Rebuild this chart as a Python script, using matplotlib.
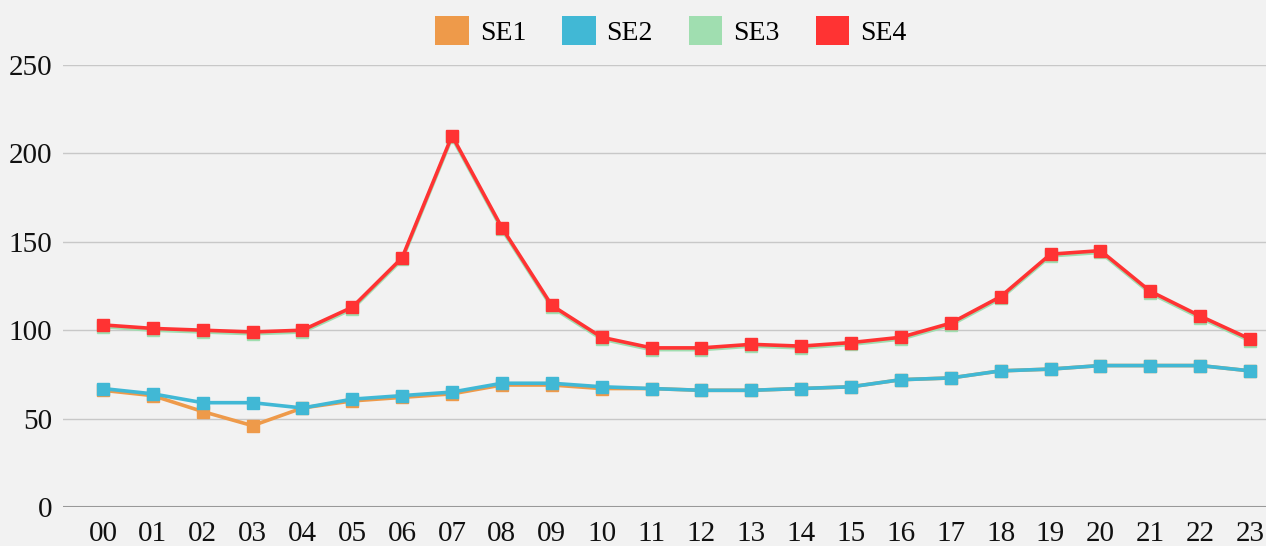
import matplotlib.pyplot as plt
from matplotlib.patches import Patch

hours = ['%02d' % h for h in range(24)]
se1 = [66, 63, 54, 46, 56, 60, 62, 64, 69, 69, 67, 67, 66, 66, 67, 68, 72, 73, 77, 78, 80, 80, 80, 77]
se2 = [67, 64, 59, 59, 56, 61, 63, 65, 70, 70, 68, 67, 66, 66, 67, 68, 72, 73, 77, 78, 80, 80, 80, 77]
se3 = [102, 100, 99, 98, 99, 112, 140, 209, 157, 113, 95, 89, 89, 91, 90, 92, 95, 103, 118, 142, 144, 121, 107, 94]
se4 = [103, 101, 100, 99, 100, 113, 141, 210, 158, 114, 96, 90, 90, 92, 91, 93, 96, 104, 119, 143, 145, 122, 108, 95]

names = ['SE1', 'SE2', 'SE3', 'SE4']
colors = ['#EE9A4A', '#41B8D5', '#A0DEB0', '#FF3333']

plt.rcParams['font.family'] = ['Liberation Serif', 'DejaVu Serif']

fig = plt.figure(figsize=(12.66, 5.46), dpi=100)
fig.patch.set_facecolor('#F2F2F2')
ax = fig.add_axes([63 / 1266, 39 / 546, 1 - 63 / 1266, 442 / 546])
ax.set_facecolor('#F2F2F2')

x = list(range(24))
for i, (vals, c) in enumerate(zip([se1, se2, se3, se4], colors)):
    ax.plot(x, vals, color=c, lw=2.6, marker='s', markersize=8, zorder=3 + i)

ax.set_ylim(0, 250)
ax.set_xlim(-0.8, 23.32)
ax.set_yticks([0, 50, 100, 150, 200, 250])
ax.set_xticks(x)
ax.set_xticklabels(hours)
ax.tick_params(length=0, labelsize=21, colors='#111111')
ax.tick_params(axis='y', pad=8)
ax.tick_params(axis='x', pad=10)
ax.grid(axis='y', color='#C8C8C8', lw=1)
ax.axhline(0, color='#999999', lw=1.5, zorder=2)
for s in ax.spines.values():
    s.set_visible(False)

handles = [Patch(facecolor=c, edgecolor='none', label=n) for n, c in zip(names, colors)]
fig.legend(handles=handles, loc='center', bbox_to_anchor=(0.53, 0.943), ncol=4,
           frameon=False, fontsize=20, handlelength=1.2, handleheight=1.2,
           handletextpad=0.4, columnspacing=1.3)

fig.savefig('out.png', dpi=100, facecolor=fig.get_facecolor())
